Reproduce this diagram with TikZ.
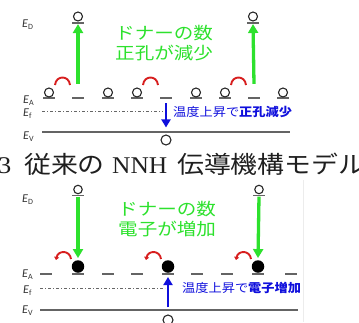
\documentclass[tikz,border=0pt]{standalone}
\usepackage{fontspec}
\setmainfont{Carlito}
\newfontfamily\cjk{Noto Sans CJK JP}
\newfontfamily\serifrm{Liberation Serif}
\usetikzlibrary{arrows.meta}
\definecolor{grn}{RGB}{45,225,45}
\definecolor{blu}{RGB}{15,15,220}
\definecolor{rd}{RGB}{215,30,30}
\definecolor{lvl}{RGB}{100,100,100}
\newcommand\elab[2]{\textit{#1}\raisebox{-2.6pt}{\fontsize{8}{8}\selectfont #2}}
\begin{document}
\begin{tikzpicture}[x=1pt,y=-1pt,
  lab/.style={anchor=base west, inner sep=0, text=black!80, font=\fontsize{12}{12}\selectfont},
  hole/.style={circle, draw=black!85, line width=1.1pt, minimum size=9pt, inner sep=0},
  elec/.style={circle, fill=black, minimum size=12.5pt, inner sep=0},
  sitebar/.style={rectangle, fill=lvl, minimum width=12pt, minimum height=1.7pt, inner sep=0},
  grnarrow/.style={draw=grn, line width=3.3pt, -{Triangle[width=10pt,length=9pt]}},
  bluarrow/.style={draw=blu, line width=2.6pt, -{Triangle[width=9pt,length=8pt]}},
  hop/.style={draw=rd, line width=1.9pt},
  hoparrow/.style={hop, -{Triangle[width=5pt,length=3pt]}},
  fermi/.style={draw=black!60, line width=0.6pt, dash pattern=on 3pt off 2pt on 1pt off 2pt},
  band/.style={draw=lvl, line width=1.7pt},
  gtext/.style={text=grn, font=\cjk\fontsize{17}{20}\selectfont, align=left, anchor=west, inner sep=0, xscale=1.15},
  btext/.style={text=blu, font=\cjk\fontsize{12}{12}\selectfont, anchor=west, inner sep=0, xscale=1.1},
  captext/.style={text=black!88, anchor=base west, inner sep=0}
]
\useasboundingbox (0,0) rectangle (359,322);

% ================= upper figure =================
\node[lab] (uED) at (22,27) {\elab{E}{D}};
\node[lab] (uEA) at (23,103) {\elab{E}{A}};
\node[lab] (uEf) at (23,116) {\elab{E}{f}};
\node[lab] (uEV) at (23,139) {\elab{E}{V}};

% donor levels
\node[sitebar] (ud1) at (78,23) {};
\node[sitebar] (ud2) at (253,23) {};
\node[hole] (udh1) at (78,16.5) {};
\node[hole] (udh2) at (253,16.5) {};

% acceptor sites
\foreach \i/\x in {1/49,2/78,3/108,4/137,5/166,6/196,7/225,8/254,9/283}
  \node[sitebar] (ua\i) at (\x,98) {};
\foreach \i/\x in {1/49,3/108,4/137,6/196,7/225,9/283}
  \node[hole] (uh\i) at (\x,92.5) {};

% hops
\foreach \x in {49,137,225}
  \draw[hop] (\x+6,85) .. controls (\x+7,75) and (\x+20,75) .. (\x+21,85);

% green excitation arrows
\draw[grnarrow] ([yshift=13pt]ua2.north) -- (ud1.south);
\draw[grnarrow] ([yshift=13pt]ua8.north) -- (ud2.south);

% Fermi level and valence band
\coordinate (uf0) at (42,111);
\coordinate (uf1) at (163,111);
\draw[fermi] (uf0) -- (uf1);
\coordinate (uv0) at (42,132);
\coordinate (uv1) at (290,132);
\draw[band] (uv0) -- (uv1);

% hole in valence band and blue arrow
\node[hole, minimum size=10pt] (uhv) at (166,140) {};
\draw[bluarrow] ([yshift=-4pt]ua5.south) -- ([yshift=7pt]uhv.north);

\node[gtext] (ugt) at (115,43) {ドナーの数\\正孔が減少};
\node[btext] (ubt) at (173,112) {温度上昇で{\bfseries 正孔減少}};

% ================= caption =================
\node[captext, font=\serifrm\fontsize{24}{24}\selectfont, xscale=1.1] (c3) at (-2,173) {3};
\node[captext, font=\cjk\fontsize{24}{24}\selectfont, xscale=1.12] (c1) at (24,173) {従来の};
\node[captext, font=\serifrm\fontsize{24}{24}\selectfont, xscale=1.06] (c2) at (112,173) {NNH};
\node[captext, font=\cjk\fontsize{24}{24}\selectfont, xscale=1.12] (c4) at (177,173) {伝導機構モデル};

% ================= lower figure =================
\draw[gray!15, line width=0.6pt] (303,180) -- (303,322);

\node[lab] (lED) at (22,202) {\elab{E}{D}};
\node[lab] (lEA) at (22,277) {\elab{E}{A}};
\node[lab] (lEf) at (23,293) {\elab{E}{f}};
\node[lab] (lEV) at (22,313) {\elab{E}{V}};

\node[sitebar] (ld1) at (78,195.5) {};
\node[sitebar] (ld2) at (259,195.5) {};
\node[hole, minimum size=8.5pt] (ldh1) at (78,189.5) {};
\node[hole, minimum size=8.5pt] (ldh2) at (259,189.5) {};

\foreach \i/\x in {1/46,2/78,3/108,4/137,5/168,6/197,7/227,8/258,9/291}
  \node[sitebar] (la\i) at (\x,274) {};
\foreach \i/\x in {2/78,5/168,8/258}
  \node[elec] (le\i) at (\x,266.5) {};

\foreach \x in {78,168,258}
  \draw[hoparrow] (\x-7,259) .. controls (\x-8,250) and (\x-20,250) .. (\x-22,260);

\draw[grnarrow] (ld1.south) -- ([yshift=2pt]le2.north);
\draw[grnarrow] (ld2.south) -- ([yshift=2pt]le8.north);

\coordinate (lf0) at (40,288);
\coordinate (lf1) at (165,288);
\draw[fermi] (lf0) -- (lf1);
\coordinate (lv0) at (40,310);
\coordinate (lv1) at (298,310);
\draw[band] (lv0) -- (lv1);

\node[hole, minimum size=10pt] (lhv) at (168,320) {};
\draw[bluarrow] ([yshift=7pt]lhv.north) -- ([yshift=-2pt]la5.south);

\node[gtext] (lgt) at (118,219) {ドナーの数\\電子が増加};
\node[btext] (lbt) at (182,288) {温度上昇で{\bfseries 電子増加}};
\end{tikzpicture}
\end{document}
